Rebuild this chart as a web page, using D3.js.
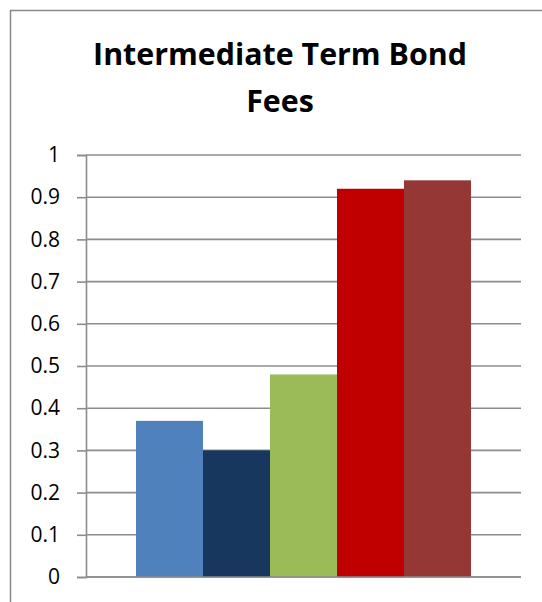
<!DOCTYPE html>
<html>
<head>
<meta charset="utf-8">
<script src="https://cdn.jsdelivr.net/npm/d3@7"></script>
<style>
  html, body { margin: 0; padding: 0; background: #fff; }
  svg { display: block; }
</style>
</head>
<body>
<svg id="chart" width="542" height="602"></svg>
<script>
// Fee levels for the five funds in the intermediate-term bond category
const seriesNames = ["Fund A", "Fund B", "Fund C", "Fund D", "Fund E"];
const feeValues = [0.37, 0.30, 0.48, 0.92, 0.94];
const seriesColors = ["#4F81BD", "#17375E", "#9BBB59", "#C00000", "#953735"];
const tickValues = [0, 0.1, 0.2, 0.3, 0.4, 0.5, 0.6, 0.7, 0.8, 0.9, 1];
const titleLines = ["Intermediate Term Bond", "Fees"];

const svg = d3.select("#chart");
const plot = { left: 86, right: 521, top: 155, bottom: 577 };

// Chart frame
svg.append("rect")
  .attr("x", 10.5).attr("y", 10.5)
  .attr("width", 560).attr("height", 620)
  .attr("fill", "#fff")
  .attr("stroke", "#888").attr("stroke-width", 1.5);

// Title, sized so the first line spans the intended width
const title = svg.append("text")
  .attr("text-anchor", "middle")
  .attr("font-family", "'Open Sans', 'Noto Sans', sans-serif")
  .attr("font-weight", "bold")
  .attr("fill", "#000");
title.selectAll("tspan").data(titleLines).join("tspan")
  .attr("x", 280)
  .attr("y", (d, i) => 65 + i * 47)
  .text(d => d);
title.attr("font-size", 30);
const firstLen = title.select("tspan").node().getComputedTextLength();
title.attr("font-size", 30 * 374 / firstLen);

const y = d3.scaleLinear().domain([0, 1]).range([plot.bottom, plot.top]);
const x = d3.scaleBand().domain(seriesNames).range([136, 471]).padding(0);

// Horizontal gridlines
svg.append("g").selectAll("line").data(tickValues).join("line")
  .attr("x1", plot.left).attr("x2", plot.right)
  .attr("y1", d => y(d)).attr("y2", d => y(d))
  .attr("stroke", "#8c8c8c").attr("stroke-width", 1.6);

// Bars
svg.append("g").selectAll("rect").data(feeValues).join("rect")
  .attr("x", (d, i) => x(seriesNames[i]))
  .attr("width", x.bandwidth())
  .attr("y", d => y(d))
  .attr("height", d => y(0) - y(d))
  .attr("fill", (d, i) => seriesColors[i]);

// Value axis
const yAxis = d3.axisLeft(y)
  .tickValues(tickValues)
  .tickSize(9)
  .tickPadding(17)
  .tickFormat(d => d3.format("")(+d.toFixed(1)));
const gy = svg.append("g")
  .attr("transform", `translate(${plot.left},0)`)
  .call(yAxis);
gy.select(".domain").attr("stroke", "#8c8c8c").attr("stroke-width", 1.6);
gy.selectAll(".tick line").attr("stroke", "#8c8c8c").attr("stroke-width", 1.6);
gy.selectAll(".tick text")
  .attr("font-family", "'Open Sans', 'Noto Sans', sans-serif")
  .attr("font-size", 21)
  .attr("fill", "#000");

// Category baseline
svg.append("line")
  .attr("x1", plot.left).attr("x2", plot.right)
  .attr("y1", y(0)).attr("y2", y(0))
  .attr("stroke", "#8c8c8c").attr("stroke-width", 1.6);
</script>
</body>
</html>
